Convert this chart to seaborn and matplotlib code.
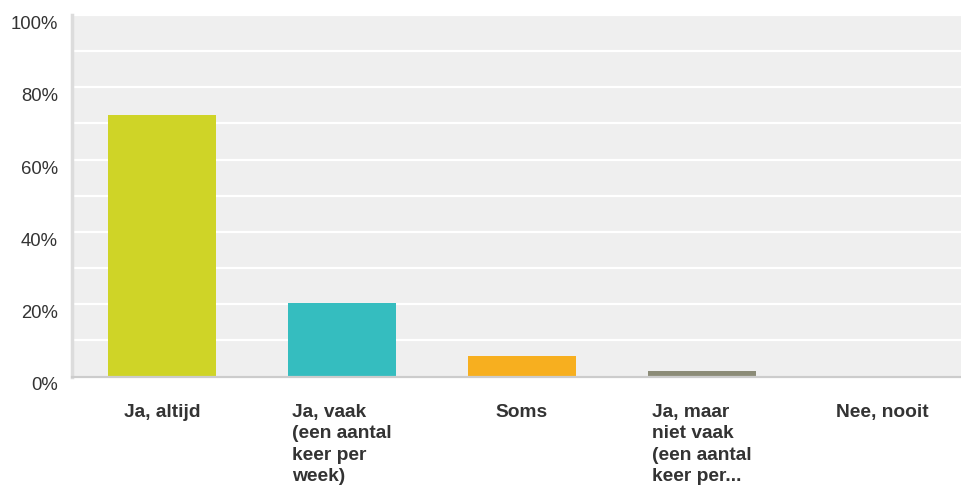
import numpy as np
import pandas as pd
import matplotlib
matplotlib.use('Agg')
import matplotlib.pyplot as plt
import seaborn as sns

# ==================== data ====================
categories = ['Ja, altijd',
              'Ja, vaak\n(een aantal\nkeer per\nweek)',
              'Soms',
              'Ja, maar\nniet vaak\n(een aantal\nkeer per...',
              'Nee, nooit']
percentages = [72.46, 20.29, 5.80, 1.45, 0.0]
bar_colors = ['#cfd427', '#35bdbf', '#f7af1f', '#8c8c78', '#b0b0b0']

df = pd.DataFrame({'answer': categories, 'pct': percentages})

sns.set_style('white')
plt.rcParams['font.family'] = ['Liberation Sans', 'DejaVu Sans']

fig = plt.figure(figsize=(9.61, 4.89), dpi=100)
ax = fig.add_axes([72 / 961, 1 - 377.5 / 489, 1 - 72 / 961, 361.5 / 489])

sns.barplot(data=df, x='answer', y='pct', hue='answer', palette=bar_colors,
            width=0.6, saturation=1, legend=False, linewidth=0, ax=ax)

ax.set_facecolor('#efefef')
ax.set_xlim(-0.5, 4.44)
ax.set_ylim(0, 100)
ax.set_yticks(np.arange(0, 101, 20))
ax.set_yticks(np.arange(10, 100, 20), minor=True)
ax.set_yticklabels([f'{v}%' for v in range(0, 101, 20)])
ax.grid(True, axis='y', which='both', color='white', linewidth=1.6)
ax.set_axisbelow(True)

ax.tick_params(axis='y', which='both', length=0, pad=10, labelsize=13.3, labelcolor='#333333')
ax.tick_params(axis='x', length=0, pad=19, labelsize=13.8, labelcolor='#333333')
for lab in ax.get_yticklabels():
    lab.set_va('top')
for lab in ax.get_xticklabels():
    lab.set_fontweight('bold')
    lab.set_va('top')
    lab.set_ha('center')
    lab.set_multialignment('left')
    lab.set_linespacing(1.34)

ax.set_xlabel('')
ax.set_ylabel('')
for side in ['top', 'right']:
    ax.spines[side].set_visible(False)
ax.spines['left'].set_color('#dcdcdc')
ax.spines['left'].set_linewidth(2.5)
ax.spines['bottom'].set_color('#cccccc')
ax.spines['bottom'].set_linewidth(1.6)

plt.savefig('out.png', dpi=100)
plt.close()
